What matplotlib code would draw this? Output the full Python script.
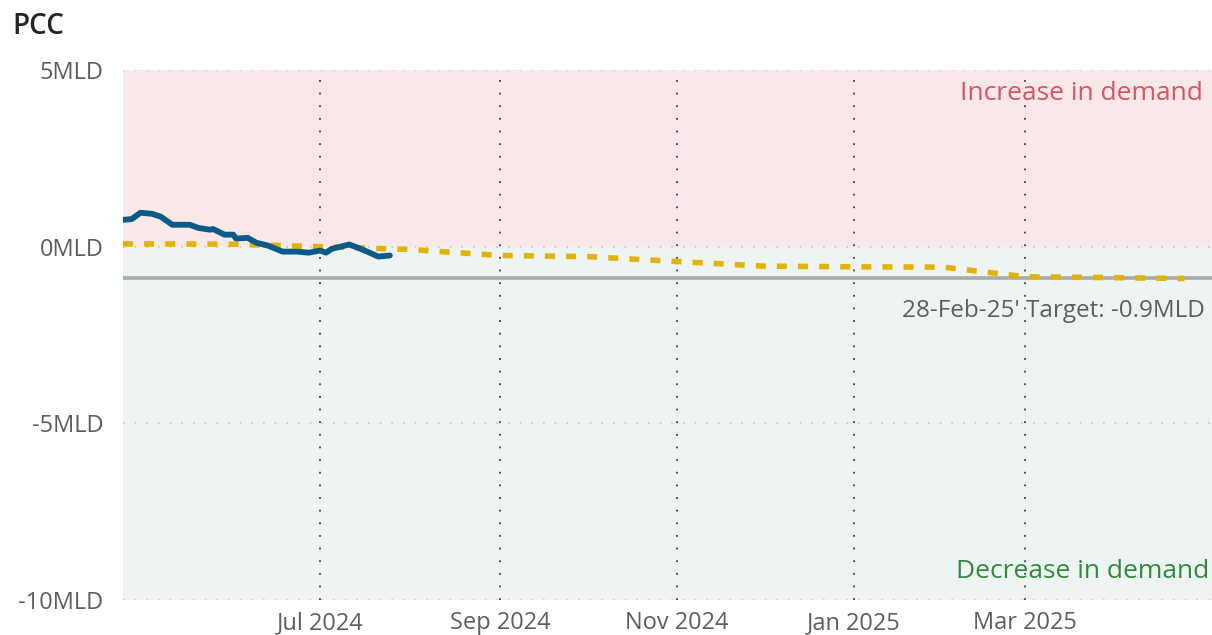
import matplotlib
matplotlib.use('Agg')
import matplotlib.pyplot as plt
import pandas as pd

plt.rcParams['font.family'] = ['Open Sans', 'DejaVu Sans']

# actual PCC (MLD)
actual_dates = ['2024-04-24', '2024-04-27', '2024-04-30', '2024-05-04', '2024-05-07',
                '2024-05-11', '2024-05-13', '2024-05-17', '2024-05-20', '2024-05-24',
                '2024-05-25', '2024-05-29', '2024-06-01', '2024-06-02', '2024-06-06',
                '2024-06-09', '2024-06-13', '2024-06-18', '2024-06-23', '2024-06-27',
                '2024-07-01', '2024-07-03', '2024-07-05', '2024-07-08', '2024-07-11',
                '2024-07-14', '2024-07-18', '2024-07-21', '2024-07-25']
actual_vals = [0.76, 0.78, 0.96, 0.93, 0.85, 0.62, 0.62, 0.62, 0.53, 0.48,
               0.50, 0.34, 0.34, 0.23, 0.25, 0.11, 0.03, -0.14, -0.14, -0.17,
               -0.11, -0.17, -0.06, 0.00, 0.06, -0.03, -0.17, -0.28, -0.25]

# target trajectory (MLD)
traj_dates = ['2024-04-24', '2024-06-01', '2024-07-01', '2024-08-01', '2024-09-01',
              '2024-10-01', '2024-11-01', '2024-12-01', '2025-01-01', '2025-02-01',
              '2025-03-01', '2025-04-25']
traj_vals = [0.08, 0.07, 0.0, -0.08, -0.25, -0.28, -0.42, -0.55, -0.57, -0.58, -0.85, -0.9]

target_val = -0.9
target_label = "28-Feb-25' Target: -0.9MLD"

yticks = [5, 0, -5, -10]
xticks = ['2024-07-01', '2024-09-01', '2024-11-01', '2025-01-01', '2025-03-01']

actual_d = pd.to_datetime(actual_dates)
traj_d = pd.to_datetime(traj_dates)
xt = pd.to_datetime(xticks)
xmin, xmax = pd.Timestamp('2024-04-24'), pd.Timestamp('2025-05-04 12:00')

fig = plt.figure(figsize=(12.12, 6.35), dpi=100)
ax = fig.add_axes([123/1212., 1 - 600/635., 1 - 123/1212., (600 - 70)/635.])

ax.axhspan(0, 5, color='#f9e8e8', lw=0, zorder=0)
ax.axhspan(-10, 0, color='#eef4f4', lw=0, zorder=0)

for y in yticks:
    ax.axhline(y, color='#c4c4c4', lw=1.2, ls=(0, (1, 6)), zorder=1)
for d in xt:
    ax.axvline(d, color='#404040', lw=1.3, ls=(0, (1, 6)), zorder=1)

ax.axhline(target_val, color='#a4adab', lw=2.6, zorder=2)
ax.plot(traj_d, traj_vals, color='#e2b400', lw=4.0, ls=(0, (1.8, 2.0)), zorder=3,
        dash_capstyle='butt')
ax.plot(actual_d, actual_vals, color='#0b5a88', lw=4.2, zorder=4,
        solid_joinstyle='round', solid_capstyle='round')

ax.set_xlim(xmin, xmax)
ax.set_ylim(-10, 5)
ax.set_yticks(yticks)
ax.set_yticklabels(['%dMLD' % v for v in yticks])
ax.set_xticks(xt)
ax.set_xticklabels([d.strftime('%b %Y') for d in xt])
ax.tick_params(axis='both', length=0, labelsize=17, labelcolor='#605e5c')
ax.tick_params(axis='y', pad=14)
ax.tick_params(axis='x', pad=8)
for s in ax.spines.values():
    s.set_visible(False)

ax.text((1203 - 123)/1089., 1 - (93 - 70)/530., 'Increase in demand', transform=ax.transAxes,
        ha='right', va='center', fontsize=19, color='#e0505f')
ax.text((1209 - 123)/1089., 1 - (572 - 70)/530., 'Decrease in demand', transform=ax.transAxes,
        ha='right', va='center', fontsize=19, color='#2f8a3a')
ax.text((1205 - 123)/1089., 1 - (311 - 70)/530., target_label, transform=ax.transAxes,
        ha='right', va='center', fontsize=17.5, color='#605e5c')

fig.text(12/1212., 1 - 26/635., 'PCC', ha='left', va='center', fontsize=20,
         color='#252423', fontweight='semibold')

fig.savefig('out.png', dpi=100, facecolor='white')
